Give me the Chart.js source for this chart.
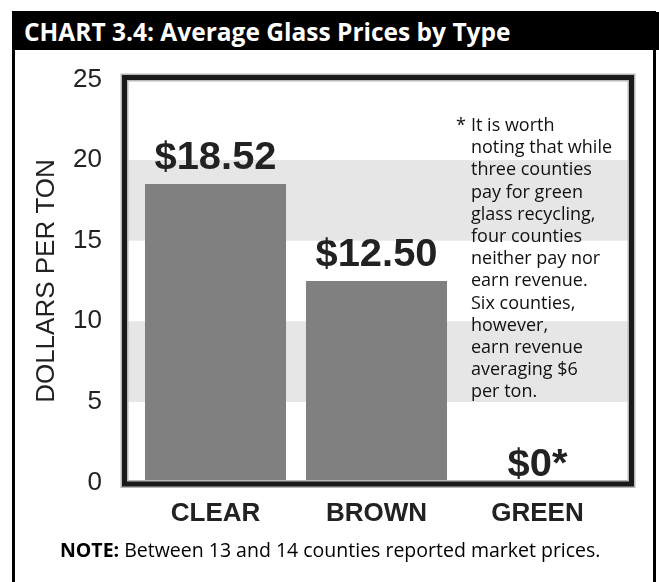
<!DOCTYPE html>
<html>
<head>
<meta charset="utf-8">
<script src="https://cdn.jsdelivr.net/npm/chart.js@4"></script>
<style>
  html, body { margin: 0; padding: 0; background: #fff; }
  body { width: 659px; height: 582px; position: relative; overflow: hidden; }
  #wrap { position: absolute; left: 0; top: 0; width: 659px; height: 582px; }
  #frame { position: absolute; left: 12px; top: 11px; width: 644px; height: 600px; border: 3px solid #000; box-sizing: border-box; }
  #header { position: absolute; left: 12px; top: 12px; width: 647px; height: 38px; background: #000; color: #fff;
    font: bold 24.5px "Open Sans", sans-serif; line-height: 40px; padding-left: 12px; box-sizing: border-box; white-space: nowrap; }
  #note { position: absolute; left: 60px; top: 536px; font: 19.5px "Open Sans", sans-serif; color: #000; white-space: nowrap; }
</style>
</head>
<body>
<div id="wrap"><canvas id="chart" width="659" height="582"></canvas></div>
<div id="frame"></div>
<div id="header">CHART 3.4: Average Glass Prices by Type</div>
<div id="note"><b>NOTE:</b> Between 13 and 14 counties reported market prices.</div>
<script>
// Data
const categories = ["CLEAR", "BROWN", "GREEN"];
const prices = [18.52, 12.50, 0];
const priceLabels = ["$18.52", "$12.50", "$0*"];
const yTicks = [0, 5, 10, 15, 20, 25];
const shadedBands = [[5, 10], [15, 20]];
const footnote = [
    "It is worth",
    "noting that while",
    "three counties",
    "pay for green",
    "glass recycling,",
    "four counties",
    "neither pay nor",
    "earn revenue.",
    "Six counties,",
    "however,",
    "earn revenue",
    "averaging $6",
    "per ton."
];

// Shaded bands, plot frame, value labels and the footnote
const decorations = {
    id: "decorations",
    beforeDatasetsDraw(chart) {
        const ctx = chart.ctx, y = chart.scales.y, a = chart.chartArea;
        ctx.save();
        ctx.fillStyle = "#e6e6e6";
        shadedBands.forEach(b => {
            const top = y.getPixelForValue(b[1]);
            const bot = y.getPixelForValue(b[0]);
            ctx.fillRect(a.left - 8, top, a.right - a.left + 19, bot - top);
        });
        // footnote text
        ctx.fillStyle = "#111";
        ctx.font = '18px "Open Sans", sans-serif';
        ctx.textBaseline = "alphabetic";
        ctx.textAlign = "left";
        ctx.fillText("*", 456, 131);
        footnote.forEach((line, i) => ctx.fillText(line, 471, 131 + i * 22.2));
        ctx.restore();
    },
    afterDatasetsDraw(chart) {
        const ctx = chart.ctx, a = chart.chartArea;
        const meta = chart.getDatasetMeta(0);
        ctx.save();
        // frame around plot
        ctx.strokeStyle = "#b8b8b8";
        ctx.lineWidth = 8;
        ctx.strokeRect(a.left - 10.5, a.top - 2, a.right - a.left + 24, a.bottom - a.top + 3.5);
        ctx.strokeStyle = "#1a1a1a";
        ctx.lineWidth = 5;
        ctx.strokeRect(a.left - 10.5, a.top - 2, a.right - a.left + 24, a.bottom - a.top + 3.5);
        // value labels
        ctx.fillStyle = "#222";
        ctx.font = 'bold 38px "Liberation Sans", Arial, sans-serif';
        ctx.textAlign = "center";
        ctx.textBaseline = "alphabetic";
        meta.data.forEach((bar, i) => {
            const off = prices[i] === 0 ? 7 : 15;
            ctx.save();
            ctx.translate(bar.x, bar.y - off);
            ctx.scale(1.05, 1);
            ctx.fillText(priceLabels[i], 0, 0);
            ctx.restore();
        });
        ctx.restore();
    }
};

new Chart(document.getElementById("chart"), {
    type: "bar",
    data: {
        labels: categories,
        datasets: [{
            data: prices,
            backgroundColor: "#808080",
            borderWidth: 0,
            barPercentage: 0.876,
            categoryPercentage: 1.0
        }]
    },
    options: {
        responsive: false,
        animation: false,
        layout: { padding: { left: 0, right: 41, top: 79.5, bottom: 0 } },
        plugins: { legend: { display: false }, tooltip: { enabled: false } },
        scales: {
            x: {
                grid: { display: false, drawTicks: false },
                border: { display: false },
                ticks: {
                    color: "#222",
                    padding: 16,
                    font: { family: '"Liberation Sans", Arial, sans-serif', size: 26, weight: "bold" }
                },
                afterFit(scale) { scale.height = 99.5; }
            },
            y: {
                min: 0,
                max: 25,
                grid: { display: false, drawTicks: false },
                border: { display: false },
                afterBuildTicks(scale) { scale.ticks = yTicks.map(v => ({ value: v })); },
                ticks: {
                    color: "#222",
                    padding: 33,
                    font: { family: '"Liberation Sans", Arial, sans-serif', size: 26 }
                },
                title: {
                    display: true,
                    text: "DOLLARS PER TON",
                    color: "#222",
                    padding: { top: 31, bottom: 0 },
                    font: { family: '"Liberation Sans", Arial, sans-serif', size: 26 }
                },
                afterFit(scale) { scale.width = 135; }
            }
        }
    },
    plugins: [decorations]
});
</script>
</body>
</html>
